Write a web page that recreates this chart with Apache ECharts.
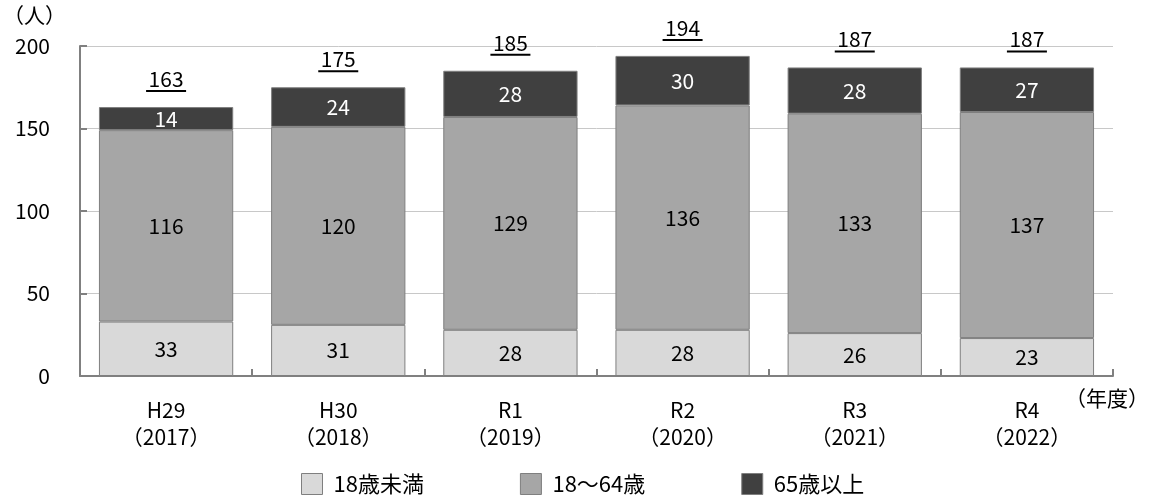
<!DOCTYPE html>
<html><head><meta charset="utf-8">
<script src="https://cdn.jsdelivr.net/npm/echarts@6/dist/echarts.min.js"></script>
<style>html,body{margin:0;padding:0;background:#fff}#c{width:1155px;height:497px}</style>
</head><body><div id="c"></div>
<script>
const categories = ['H29\n（2017）','H30\n（2018）','R1\n（2019）','R2\n（2020）','R3\n（2021）','R4\n（2022）'];
const under18 = [33, 31, 28, 28, 26, 23];
const age18to64 = [116, 120, 129, 136, 133, 137];
const over65 = [14, 24, 28, 30, 28, 27];
const totals = [163, 175, 185, 194, 187, 187];
const seriesNames = ['18歳未満','18～64歳','65歳以上'];
const yTicks = [0, 50, 100, 150, 200];

const FONT = '"Noto Sans CJK JP", sans-serif';
const FS = 21;
const chart = echarts.init(document.getElementById('c'));
function barSeries(name, data, color, labelColor){
  return {
    name, type:'bar', stack:'a', data, barWidth:'78%',
    itemStyle:{color, borderColor:'#7f7f7f', borderWidth:1},
    label:{show:true, position:'inside', color:labelColor, fontSize:FS, fontFamily:FONT},
    emphasis:{disabled:true}
  };
}
chart.setOption({
  animation:false,
  textStyle:{fontFamily:FONT},
  grid:{left:80, right:42, top:46, bottom:121, containLabel:false, outerBoundsMode:'none'},
  legend:{
    top:468, left:296, itemWidth:21, itemHeight:21, itemGap:96, icon:'rect',
    data:seriesNames,
    textStyle:{fontSize:22, color:'#000', fontFamily:FONT, padding:[0,0,0,6]},
    itemStyle:{borderColor:'#7f7f7f', borderWidth:1}
  },
  graphic:[
    {type:'text', right:6, top:388, style:{text:'（年度）', fontSize:FS, fontFamily:FONT, fill:'#000'}},
    {type:'text', left:3, top:5, style:{text:'（人）', fontSize:FS, fontFamily:FONT, fill:'#000'}}
  ],
  xAxis:{
    type:'category', data:categories,
    axisLine:{lineStyle:{color:'#808080', width:2}},
    axisTick:{show:true, inside:true, length:7, lineStyle:{color:'#808080', width:2}},
    axisLabel:{fontSize:FS, color:'#000', lineHeight:27, margin:21, fontFamily:FONT}
  },
  yAxis:{
    type:'value', min:yTicks[0], max:yTicks[yTicks.length-1], interval:50,
    axisLine:{show:true, lineStyle:{color:'#808080', width:2}},
    axisTick:{show:true, inside:true, length:7, lineStyle:{color:'#808080', width:2}},
    splitLine:{lineStyle:{color:'#c8c8c8', width:1}},
    axisLabel:{fontSize:FS, color:'#000', margin:30, fontFamily:FONT}
  },
  series:[
    barSeries(seriesNames[0], under18, '#d9d9d9', '#000'),
    barSeries(seriesNames[1], age18to64, '#a6a6a6', '#000'),
    barSeries(seriesNames[2], over65, '#404040', '#fff'),
    {
      type:'custom', name:'total', data:totals.map((v,i)=>[i,v]),
      renderItem:function(params, api){
        const p = api.coord([api.value(0), api.value(1)]);
        const txt = String(api.value(1));
        const w = 40;
        return {type:'group', children:[
          {type:'text', style:{text:txt, x:p[0], y:p[1]-28, align:'center', verticalAlign:'middle', fontSize:FS, fontFamily:FONT, fill:'#000'}},
          {type:'line', shape:{x1:p[0]-w/2, y1:p[1]-16, x2:p[0]+w/2, y2:p[1]-16}, style:{stroke:'#000', lineWidth:2}}
        ]};
      },
      z:10, silent:true
    }
  ]
});
</script></body></html>
